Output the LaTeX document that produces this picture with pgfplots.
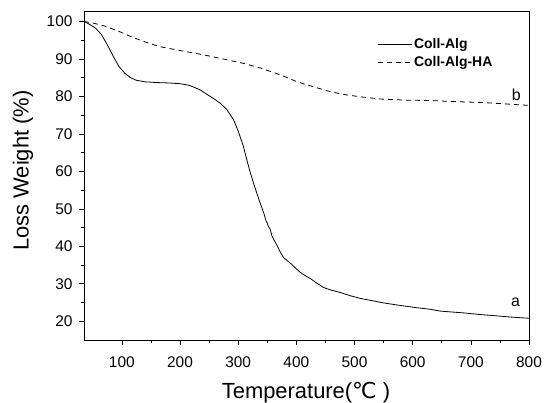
\documentclass[border=0pt]{standalone}
\usepackage{fontspec}
\setmainfont{Liberation Sans}
\newfontfamily\dejavu{DejaVu Sans}
\usepackage{pgfplots}
\pgfplotsset{compat=1.18}
\begin{document}
\begin{tikzpicture}
\begin{axis}[name=ax, scale only axis, width=445bp, height=329bp,
  xmin=35, xmax=800, ymin=15, ymax=102.8,
  xtick={100,200,...,800}, ytick={20,30,...,100},
  minor x tick num=1, minor y tick num=1,
  tick align=outside, xtick pos=bottom, ytick pos=left,
  major tick length=5bp, minor tick length=3bp,
  tick style={black, line width=0.6bp},
  axis line style={line width=0.8bp},
  /pgf/number format/assume math mode=true,
  ticklabel style={font=\fontsize{15.5}{18}\selectfont},
  xticklabel style={yshift=-8bp},
  yticklabel style={xshift=-3bp},
  xlabel={Temperature({\dejavu ℃} )},
  ylabel={Loss Weight (\%)},
  label style={font=\fontsize{22}{25}\selectfont},
  xlabel style={at={(axis description cs:0.499,-0.16)}, anchor=center},
  ylabel style={at={(axis description cs:-0.137,0.515)}, anchor=center},
  legend style={at={(axis description cs:0.652,0.93)}, anchor=north west,
    draw=none, fill=none, font=\bfseries\fontsize{14}{16}\selectfont,
    row sep=3bp},
  legend cell align=left,
  legend image code/.code={\draw[#1] (0bp,0bp) -- (34bp,0bp);},
]
\addplot[black, line width=0.8bp] coordinates {
(35,100) (45,99.2) (55,98.2) (65,96.5) (75,93.8) (85,90.8) (95,88.0) (105,86.2)
(115,85.0) (125,84.3) (140,83.9) (160,83.7) (180,83.6) (200,83.4) (215,83.0)
(225,82.4) (235,81.7) (250,80.2) (260,79.2) (269,78.2) (280,76.6) (292,73.8)
(300,70.8) (309,66.7) (315,63.0) (321,59.6) (327,56.6) (332,54.2) (338,51.5)
(344,48.9) (348,46.8) (350,46.2) (352,45.3) (355,44.6) (358,42.8) (362,41.6)
(367,40.2) (372,38.6) (378,37.0) (385,36.1) (392,35.2) (400,34.0) (407,33.0)
(415,32.2) (425,31.3) (435,30.2) (447,29.0) (460,28.3) (475,27.7) (493,26.8)
(510,26.1) (530,25.5) (550,24.9) (575,24.3) (608,23.6) (630,23.2) (648,22.7)
(665,22.5) (690,22.2) (715,21.8) (740,21.5) (770,21.1) (800,20.8)};
\addlegendentry{Coll-Alg}
\addplot[black, line width=0.8bp, dash pattern=on 5bp off 4bp] coordinates {
(35,100) (50,99.6) (70,98.8) (96,97.3) (115,96.0) (137,94.7) (165,93.3)
(195,92.4) (223,91.6) (250,90.8) (280,89.8) (310,88.8) (338,87.6) (372,85.8)
(400,84.0) (420,83.0) (440,82.1) (460,81.2) (487,80.4) (515,79.8) (545,79.3)
(590,79.0) (631,78.9) (675,78.6) (717,78.4) (760,78.0) (800,77.6)};
\addlegendentry{Coll-Alg-HA}
\node[font=\fontsize{16}{18}\selectfont] at (axis cs:777,25) {a};
\node[font=\fontsize{16}{18}\selectfont] at (axis cs:778,80.5) {b};
\end{axis}
\pgfresetboundingbox
\path ([xshift=-84bp,yshift=-63bp]ax.south west) rectangle ([xshift=15bp,yshift=11bp]ax.north east);
\end{tikzpicture}
\end{document}
